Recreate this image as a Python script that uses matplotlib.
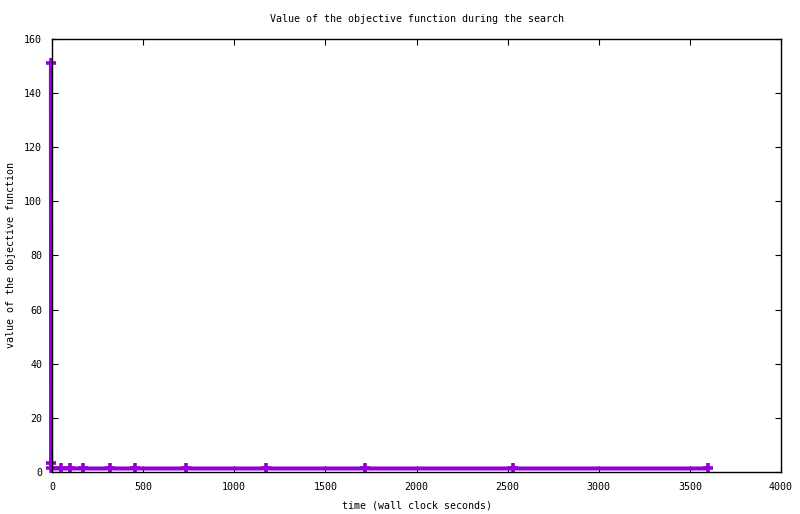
import matplotlib
matplotlib.use("Agg")
import matplotlib.pyplot as plt

# data
time_s = [-6, -5, -4, 48, 97, 172, 317, 454, 734, 1173, 1716, 2527, 3599]
objective = [151, 3.3, 1.3, 1.3, 1.3, 1.3, 1.3, 1.3, 1.3, 1.3, 1.3, 1.3, 1.3]
x_ticks = [0, 500, 1000, 1500, 2000, 2500, 3000, 3500, 4000]
y_ticks = [0, 20, 40, 60, 80, 100, 120, 140, 160]

FONT = "DejaVu Sans Mono"
FS = 7.2

fig = plt.figure(figsize=(8.0, 5.14), dpi=100)
ax = fig.add_axes([52/800, 1-472/514, (781-52)/800, (472-39)/514])

ax.plot(time_s, objective, color="#9400d3",
        linewidth=2.9, marker="+", markersize=7.4, markeredgewidth=2.6,
        clip_on=False, zorder=3)

ax.set_xlim(0, 4000)
ax.set_ylim(0, 160)
ax.set_xticks(x_ticks)
ax.set_yticks(y_ticks)
ax.set_xticklabels([str(v) for v in x_ticks], fontfamily=FONT, fontsize=FS)
ax.set_yticklabels([str(v) for v in y_ticks], fontfamily=FONT, fontsize=FS)
ax.tick_params(direction="in", length=4, width=0.8, top=True, right=True,
               pad=7, color="black")
for s in ax.spines.values():
    s.set_linewidth(1.0)
    s.set_color("black")
    s.set_zorder(4)

ax.set_title("Value of the objective function during the search",
             fontfamily=FONT, fontsize=FS, pad=12)
ax.set_xlabel("time (wall clock seconds)", fontfamily=FONT, fontsize=FS, labelpad=6)
ax.set_ylabel("value of the objective function", fontfamily=FONT, fontsize=FS, labelpad=6)

fig.savefig("out.png", dpi=100)
